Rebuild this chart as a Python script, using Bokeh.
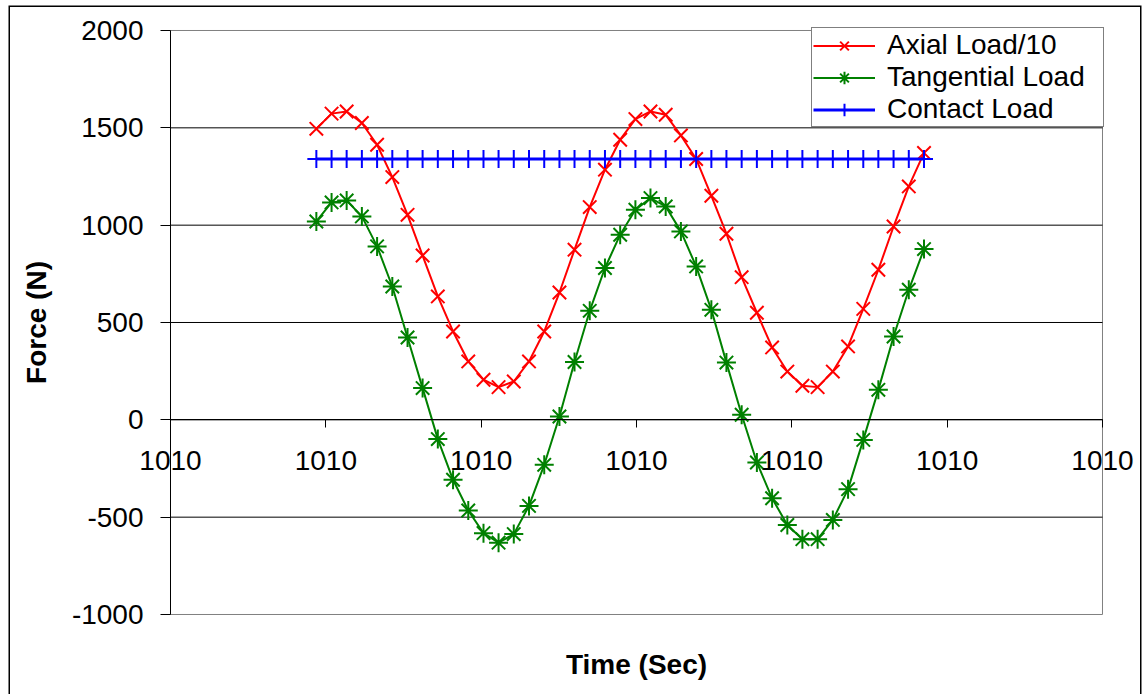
from bokeh.plotting import figure
from bokeh.models import (Range1d, FixedTicker, LinearAxis, Legend, LegendItem)
from bokeh.embed import file_html
from bokeh.resources import INLINE

# ---- data ----
TIME = [0.939, 1.037, 1.134, 1.232, 1.330, 1.428, 1.526, 1.623, 1.721, 1.819,
        1.917, 2.015, 2.112, 2.210, 2.308, 2.406, 2.504, 2.601, 2.699, 2.797,
        2.895, 2.993, 3.090, 3.188, 3.286, 3.384, 3.482, 3.579, 3.677, 3.775,
        3.873, 3.971, 4.068, 4.166, 4.264, 4.362, 4.460, 4.557, 4.655, 4.753,
        4.851]

AXIAL_LOAD_DIV10 = [1495, 1573, 1584, 1525, 1413, 1247, 1053, 844, 634, 454,
                    300, 206, 168, 197, 300, 454, 654, 874, 1093, 1285,
                    1439, 1545, 1584, 1567, 1461, 1340, 1151, 956, 733, 550,
                    372, 248, 175, 168, 248, 377, 570, 771, 993, 1199,
                    1371]

TANGENTIAL_LOAD = [1019, 1117, 1127, 1045, 891, 685, 423, 163, -99, -308,
                   -466, -582, -631, -587, -442, -231, 17, 297, 560, 780,
                   951, 1079, 1139, 1096, 968, 788, 565, 294, 26, -219,
                   -403, -540, -613, -613, -514, -356, -103, 154, 428, 668,
                   877]

CONTACT_LOAD = [1340, 1340, 1340, 1340, 1340, 1340, 1340, 1340, 1340, 1340,
                1340, 1340, 1340, 1340, 1340, 1340, 1340, 1340, 1340, 1340,
                1340, 1340, 1340, 1340, 1340, 1340, 1340, 1340, 1340, 1340,
                1340, 1340, 1340, 1340, 1340, 1340, 1340, 1340, 1340, 1340,
                1340]

X_TICKS = [0, 1, 2, 3, 4, 5, 6]
X_TICK_LABELS = ["1010", "1010", "1010", "1010", "1010", "1010", "1010"]
Y_TICKS = [-1000, -500, 0, 500, 1000, 1500, 2000]
Y_TICK_LABELS = ["-1000", "-500", "0", "500", "1000", "1500", "2000"]
Y_GRID = [-500, 0, 500, 1000, 1500]

FONT = "Liberation Sans"

# Layout: the frame covers the whole chart area (inside the outer border);
# the plot area spans X_TICKS[0]..X_TICKS[-1] and Y_TICKS[0]..Y_TICKS[-1].
X_START, X_END = -1.0429, 6.2511
Y_START, Y_END = -1410.96, 2128.42

p = figure(width=1143, height=694, output_backend="svg", toolbar_location=None,
           x_range=Range1d(X_START, X_END), y_range=Range1d(Y_START, Y_END),
           min_border=0, min_border_left=8, min_border_right=2,
           min_border_top=5, min_border_bottom=0,
           background_fill_color="white", border_fill_color="white",
           outline_line_color=None)

p.xgrid.grid_line_color = None
p.ygrid.grid_line_color = None

# outer chart border (left, top, right; bottom runs off the picture)
p.line([X_START, X_START, X_END, X_END], [Y_START, Y_END, Y_END, Y_START],
       line_color="black", line_width=3)

# plot area: gray frame and black horizontal gridlines
p.quad(left=X_TICKS[0], right=X_TICKS[-1], bottom=Y_TICKS[0], top=Y_TICKS[-1],
       fill_color=None, line_color="#808080", line_width=1)
p.segment(x0=[X_TICKS[0]] * len(Y_GRID), x1=[X_TICKS[-1]] * len(Y_GRID),
          y0=Y_GRID, y1=Y_GRID, line_color="black", line_width=1)

# x axis crossing at y = 0
xa = p.xaxis[0]
xa.fixed_location = 0
xa.bounds = (X_TICKS[0], X_TICKS[-1])
xa.ticker = FixedTicker(ticks=X_TICKS)
xa.major_label_overrides = {t: lab for t, lab in zip(X_TICKS, X_TICK_LABELS)}
xa.major_tick_out = 8
xa.major_tick_in = 0
xa.minor_tick_out = 0
xa.minor_tick_in = 0
xa.major_tick_line_color = "black"
xa.axis_line_color = "black"
xa.major_label_text_font = FONT
xa.major_label_text_font_size = "28px"
xa.major_label_text_color = "black"
xa.major_label_standoff = 23

# y axis at x = first tick
ya = p.yaxis[0]
ya.fixed_location = X_TICKS[0]
ya.bounds = (Y_TICKS[0], Y_TICKS[-1])
ya.ticker = FixedTicker(ticks=Y_TICKS)
ya.major_label_overrides = {t: lab for t, lab in zip(Y_TICKS, Y_TICK_LABELS)}
ya.major_tick_out = 10
ya.major_tick_in = 0
ya.minor_tick_out = 0
ya.minor_tick_in = 0
ya.axis_line_color = "black"
ya.major_tick_line_color = "black"
ya.major_label_text_font = FONT
ya.major_label_text_font_size = "28px"
ya.major_label_text_color = "black"
ya.major_label_standoff = 17
ya.axis_label = "Force (N)"
ya.axis_label_text_font = FONT
ya.axis_label_text_font_size = "28px"
ya.axis_label_text_font_style = "bold"
ya.axis_label_text_color = "black"
ya.axis_label_standoff = 17

# x axis title, under the plot area
lab_ax = LinearAxis(axis_label="Time (Sec)", ticker=FixedTicker(ticks=[]),
                    fixed_location=Y_TICKS[0],
                    bounds=(X_TICKS[0], X_TICKS[-1]),
                    axis_line_color=None, major_tick_line_color=None,
                    minor_tick_line_color=None,
                    major_tick_out=0, major_tick_in=0,
                    axis_label_text_font=FONT,
                    axis_label_text_font_size="28px",
                    axis_label_text_font_style="bold",
                    axis_label_text_color="black",
                    axis_label_standoff=34)
p.add_layout(lab_ax, "below")

# series
r1l = p.line(TIME, AXIAL_LOAD_DIV10, line_color="#FF0000", line_width=2)
r1p = p.scatter(TIME, AXIAL_LOAD_DIV10, marker="x", size=19,
                line_color="#FF0000", line_width=2)
r2l = p.line(TIME, TANGENTIAL_LOAD, line_color="#008000", line_width=2)
r2p = p.scatter(TIME, TANGENTIAL_LOAD, marker="asterisk", size=19,
                line_color="#008000", line_width=2)
r3l = p.line(TIME, CONTACT_LOAD, line_color="#0000FF", line_width=3)
r3p = p.scatter(TIME, CONTACT_LOAD, marker="cross", size=18,
                line_color="#0000FF", line_width=2)

# legend: its bottom-left corner, in pixels from the frame's bottom-left
legend = Legend(items=[
    LegendItem(label="Axial Load/10", renderers=[r1l, r1p]),
    LegendItem(label="Tangential Load", renderers=[r2l, r2p]),
    LegendItem(label="Contact Load", renderers=[r3l, r3p]),
], location=(803, 567), orientation="vertical",
    label_text_font=FONT, label_text_font_size="28px", label_text_color="black",
    padding=1, spacing=0, margin=0, glyph_width=62, glyph_height=31,
    label_standoff=12, label_width=215, label_height=27,
    border_line_color="black", border_line_width=1,
    background_fill_color="white", background_fill_alpha=1.0)
p.add_layout(legend)

open("out.html", "w").write(file_html(p, INLINE))
